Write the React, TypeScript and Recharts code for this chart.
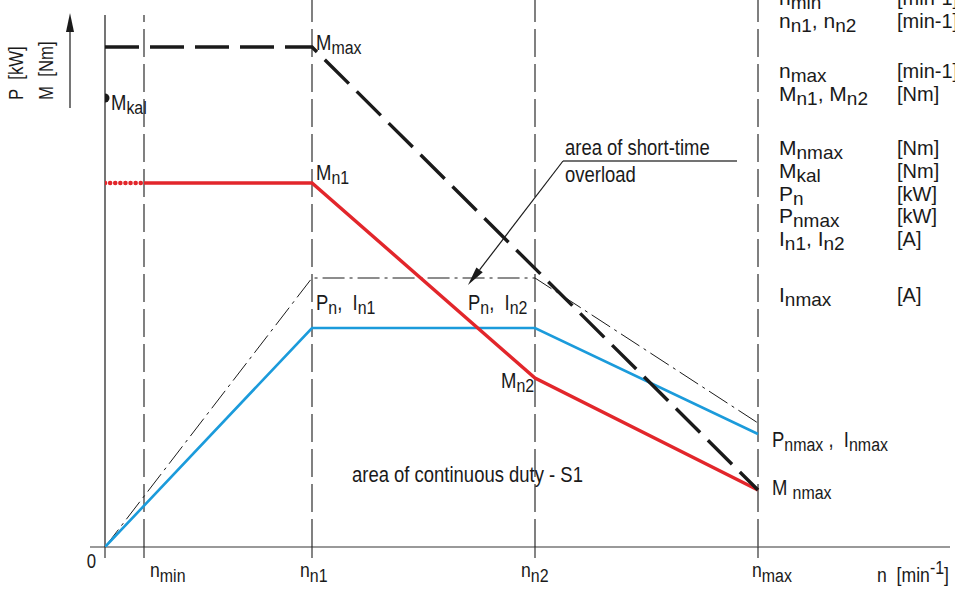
import React from 'react';
import { ComposedChart, Line, XAxis, YAxis, ReferenceLine, ReferenceDot, Scatter } from 'recharts';

// ---------- data (speed n on x, torque / power on y, in diagram units) ----------
const nTickValues = [0, 39, 207, 430, 653];
const nTickMain = ['0', 'n', 'n', 'n', 'n'];
const nTickSub = ['', 'min', 'n1', 'n2', 'max'];

const mMaxCurve = [{ n: 0, v: 500 }, { n: 207, v: 500 }, { n: 653, v: 57 }];
const mDottedStart = [{ n: 0, v: 364 }, { n: 39, v: 364 }];
const mCurve = [{ n: 39, v: 364 }, { n: 207, v: 364 }, { n: 430, v: 169 }, { n: 653, v: 57 }];
const pCurve = [{ n: 0, v: 0 }, { n: 207, v: 219 }, { n: 430, v: 219 }, { n: 653, v: 113 }];
const overloadCurve = [{ n: 0, v: 0 }, { n: 207, v: 269 }, { n: 430, v: 269 }, { n: 653, v: 124 }];
const mKalPoint = [{ n: 0, v: 449 }];

type Part = { t: string; s?: 'sub' | 'sup' };

const legendSymbols: Part[][] = [
  [{ t: 'n' }, { t: 'min', s: 'sub' }],
  [{ t: 'n' }, { t: 'n1', s: 'sub' }, { t: ', n' }, { t: 'n2', s: 'sub' }],
  [{ t: 'n' }, { t: 'max', s: 'sub' }],
  [{ t: 'M' }, { t: 'n1', s: 'sub' }, { t: ', M' }, { t: 'n2', s: 'sub' }],
  [{ t: 'M' }, { t: 'nmax', s: 'sub' }],
  [{ t: 'M' }, { t: 'kal', s: 'sub' }],
  [{ t: 'P' }, { t: 'n', s: 'sub' }],
  [{ t: 'P' }, { t: 'nmax', s: 'sub' }],
  [{ t: 'I' }, { t: 'n1', s: 'sub' }, { t: ', I' }, { t: 'n2', s: 'sub' }],
  [{ t: 'I' }, { t: 'nmax', s: 'sub' }],
];
const legendUnits = ['[min-1]', '[min-1]', '[min-1]', '[Nm]', '[Nm]', '[Nm]', '[kW]', '[kW]', '[A]', '[A]'];
const legendBaselines = [5, 28, 78, 101, 155, 178, 201, 223, 246, 302];

// ---------- styling ----------
const W = 955;
const H = 594;
const NARROW = "'Liberation Sans', Arial, sans-serif";
const ARIAL = "'Liberation Sans', Arial, sans-serif";
const INK = '#1a1a1a';
const RED = '#e2262b';
const BLUE = '#1b9bdb';

function Rich({ x, y, parts, size = 22, small = 19, shift = 4, family = NARROW, anchor = 'start', sx = 0.84 }: any) {
  let cur = 0;
  return (
    <text
      transform={`translate(${x},${y}) scale(${sx},1)`}
      x={0}
      y={0}
      fontFamily={family}
      fontSize={size}
      fill={INK}
      textAnchor={anchor}
      style={{ whiteSpace: 'pre' }}
    >
      {parts.map((p: Part, i: number) => {
        const target = p.s === 'sub' ? shift : p.s === 'sup' ? -shift * 2 : 0;
        const dy = target - cur;
        cur = target;
        return (
          <tspan key={i} dy={dy} fontSize={p.s ? small : size}>
            {p.t}
          </tspan>
        );
      })}
    </text>
  );
}

const labelAt = (parts: Part[], dx: number, dy: number, opts: any = {}) => (props: any) => (
  <Rich x={props.cx + dx} y={props.cy + dy} parts={parts} {...opts} />
);

const NTick = (props: any) => {
  const { x, y, index } = props;
  const offs = [-9, 6, -12, -14, -6];
  if (index === 0) {
    return <Rich x={x + offs[0]} y={y + 8} parts={[{ t: '0' }]} anchor="end" size={20} />;
  }
  return (
    <Rich
      x={x + offs[index]}
      y={y + 17}
      parts={[{ t: nTickMain[index] }, { t: nTickSub[index], s: 'sub' }]}
      size={21}
      small={19}
      shift={5}
    />
  );
};

const arrowLine = (props: any) => {
  const { x1, y1, x2, y2 } = props;
  const ang = Math.atan2(y2 - y1, x2 - x1);
  const len = 19;
  const half = 4;
  const bx = x2 - Math.cos(ang) * len;
  const by = y2 - Math.sin(ang) * len;
  const px = -Math.sin(ang) * half;
  const py = Math.cos(ang) * half;
  return (
    <g>
      <line x1={x1} y1={y1} x2={bx} y2={by} stroke={INK} strokeWidth={1.2} />
      <polygon points={`${x2},${y2} ${bx + px},${by + py} ${bx - px},${by - py}`} fill={INK} />
    </g>
  );
};

export default function App() {
  return (
    <div style={{ position: 'absolute', left: 0, top: 0, width: W, height: H, background: '#fff', overflow: 'hidden' }}>
      <ComposedChart width={W} height={H} margin={{ top: 0, right: 5, left: 105, bottom: 0 }}>
        <XAxis
          type="number"
          dataKey="n"
          domain={[0, 845]}
          ticks={nTickValues}
          interval={0}
          axisLine={false}
          tickSize={11}
          tickLine={{ stroke: '#333', strokeWidth: 1.2 }}
          tick={<NTick />}
          height={47}
          allowDataOverflow
        />
        <YAxis type="number" domain={[0, 547]} hide allowDataOverflow />

        {/* axes */}
        <ReferenceLine segment={[{ x: -15, y: 0 }, { x: 845, y: 0 }]} stroke="#777" strokeWidth={1.6} ifOverflow="visible" />
        <ReferenceLine segment={[{ x: 0, y: 0 }, { x: 0, y: 532 }]} stroke={INK} strokeWidth={1.2} ifOverflow="visible" />
        <ReferenceLine segment={[{ x: -35, y: 439 }, { x: -35, y: 534 }]} ifOverflow="visible" shape={arrowLine} />

        {/* speed limits */}
        <ReferenceLine segment={[{ x: 39, y: 0 }, { x: 39, y: 532 }]} stroke={INK} strokeWidth={1.1} strokeDasharray="28 7" />
        <ReferenceLine segment={[{ x: 207, y: 0 }, { x: 207, y: 547 }]} stroke={INK} strokeWidth={1.1} strokeDasharray="28 7" />
        <ReferenceLine segment={[{ x: 430, y: 0 }, { x: 430, y: 547 }]} stroke={INK} strokeWidth={1.1} strokeDasharray="28 7" />
        <ReferenceLine segment={[{ x: 653, y: 0 }, { x: 653, y: 547 }]} stroke="#555" strokeWidth={1.5} strokeDasharray="28 7" />

        {/* curves */}
        <Line data={overloadCurve} dataKey="v" type="linear" stroke={INK} strokeWidth={1} strokeDasharray="22 5 3 5" dot={false} isAnimationActive={false} />
        <Line data={pCurve} dataKey="v" type="linear" stroke={BLUE} strokeWidth={2.6} dot={false} isAnimationActive={false} />
        <Line data={mDottedStart} dataKey="v" type="linear" stroke={RED} strokeWidth={4.5} strokeDasharray="0.1 5" strokeLinecap="round" dot={false} isAnimationActive={false} />
        <Line data={mCurve} dataKey="v" type="linear" stroke={RED} strokeWidth={3.4} dot={false} isAnimationActive={false} />
        <Line data={mMaxCurve} dataKey="v" type="linear" stroke={INK} strokeWidth={3.4} strokeDasharray="34 11" dot={false} isAnimationActive={false} />
        <Scatter data={mKalPoint} dataKey="v" isAnimationActive={false} shape={(p: any) => <circle cx={p.cx} cy={p.cy} r={4.5} fill={INK} />} />

        {/* leader for overload area */}
        <ReferenceLine segment={[{ x: 458, y: 386 }, { x: 632, y: 386 }]} stroke="#444" strokeWidth={1.3} ifOverflow="visible" />
        <ReferenceLine segment={[{ x: 458, y: 386 }, { x: 363, y: 262 }]} ifOverflow="visible" shape={arrowLine} />

        {/* curve labels */}
        <ReferenceDot x={207} y={500} ifOverflow="visible" shape={labelAt([{ t: 'M' }, { t: 'max', s: 'sub' }], 4, 3)} />
        <ReferenceDot x={0} y={449} ifOverflow="visible" shape={labelAt([{ t: 'M' }, { t: 'kal', s: 'sub' }], 6, 12)} />
        <ReferenceDot x={207} y={364} ifOverflow="visible" shape={labelAt([{ t: 'M' }, { t: 'n1', s: 'sub' }], 4, -3)} />
        <ReferenceDot x={207} y={219} ifOverflow="visible" shape={labelAt([{ t: 'P' }, { t: 'n', s: 'sub' }, { t: ',  I' }, { t: 'n1', s: 'sub' }], 4, -18)} />
        <ReferenceDot x={430} y={219} ifOverflow="visible" shape={labelAt([{ t: 'P' }, { t: 'n', s: 'sub' }, { t: ',  I' }, { t: 'n2', s: 'sub' }], -67, -18)} />
        <ReferenceDot x={430} y={169} ifOverflow="visible" shape={labelAt([{ t: 'M' }, { t: 'n2', s: 'sub' }], -34, 10)} />
        <ReferenceDot x={653} y={113} ifOverflow="visible" shape={labelAt([{ t: 'P' }, { t: 'nmax', s: 'sub' }, { t: ' ,  I' }, { t: 'nmax', s: 'sub' }], 14, 13)} />
        <ReferenceDot x={653} y={57} ifOverflow="visible" shape={labelAt([{ t: 'M ' }, { t: 'nmax', s: 'sub' }], 14, 5)} />
        <ReferenceDot x={458} y={386} ifOverflow="visible" shape={labelAt([{ t: 'area of short-time' }], 2, -6)} />
        <ReferenceDot x={458} y={386} ifOverflow="visible" shape={labelAt([{ t: 'overload' }], 2, 21)} />
        <ReferenceDot x={247} y={65} ifOverflow="visible" shape={labelAt([{ t: 'area of continuous duty - S1' }], 0, 0)} />
        <ReferenceDot x={772} y={0} ifOverflow="visible" shape={labelAt([{ t: 'n  [min' }, { t: '-1', s: 'sup' }, { t: ']' }], 0, 35, { size: 21, small: 19, shift: 4 })} />
      </ComposedChart>

      {/* axis title and symbol legend */}
      <svg width={W} height={H} style={{ position: 'absolute', left: 0, top: 0, pointerEvents: 'none' }}>
        <g transform="translate(23,100) rotate(-90)">
          <Rich x={0} y={0} parts={[{ t: 'P  [kW]' }]} size={20} />
        </g>
        <g transform="translate(53,100) rotate(-90)">
          <Rich x={0} y={0} parts={[{ t: 'M  [Nm]' }]} size={20} />
        </g>
        {legendSymbols.map((parts, i) => (
          <g key={i}>
            <Rich x={779} y={legendBaselines[i]} parts={parts} family={ARIAL} size={21} small={19} shift={4} sx={1} />
            <Rich x={897} y={legendBaselines[i]} parts={[{ t: legendUnits[i] }]} family={ARIAL} size={20} sx={1} />
          </g>
        ))}
      </svg>
    </div>
  );
}
